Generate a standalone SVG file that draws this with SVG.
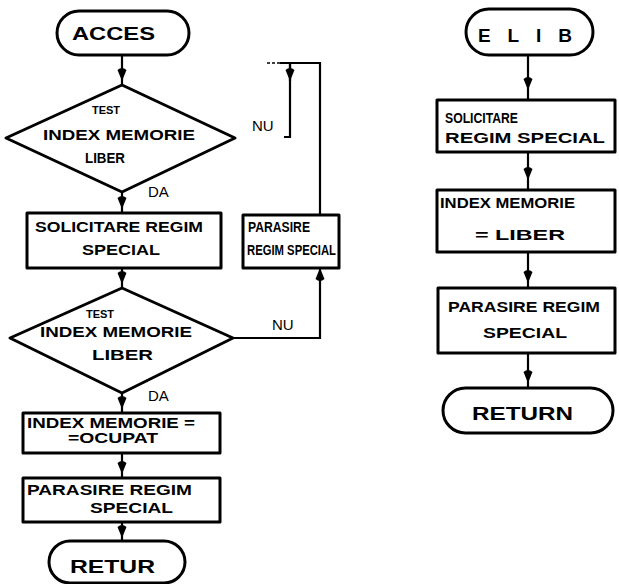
<svg xmlns="http://www.w3.org/2000/svg" width="619" height="584" viewBox="0 0 619 584">
  <style>
    .shape { fill: #fff; stroke: #000; stroke-width: 3; stroke-linejoin: round; }
    .wire { fill: none; stroke: #000; stroke-width: 2.2; }
    .faint { fill: none; stroke: #000; stroke-width: 1.5; stroke-dasharray: 3 2; }
    text { font-family: "Liberation Sans", "DejaVu Sans", sans-serif; font-weight: bold; fill: #000; }
    .t { font-size: 14px; }
    .s { font-size: 11px; }
    .big { font-size: 19px; }
    .lbl { font-size: 15px; font-weight: normal; }
  </style>
  <defs>
    <marker id="head" viewBox="-16 -6 18 12" refX="0" refY="0" markerWidth="18" markerHeight="12" markerUnits="userSpaceOnUse" orient="auto">
      <path d="M0,0 L-11,-4.5 Q-15,0 -11,4.5 Z" fill="#000"/>
    </marker>
  </defs>

  <!-- connectors -->
  <g id="connectors">
    <path class="wire" d="M122,55 V81 V87" marker-mid="url(#head)"/>
    <path class="wire" d="M122,192 V209 V213" marker-mid="url(#head)"/>
    <path class="wire" d="M122,268 V284 V288" marker-mid="url(#head)"/>
    <path class="wire" d="M122,393 V409 V413" marker-mid="url(#head)"/>
    <path class="wire" d="M122,453 V474 V478" marker-mid="url(#head)"/>
    <path class="wire" d="M122,522 V538 V541" marker-mid="url(#head)"/>
    <!-- NU branch from second test back to the leave box -->
    <path class="wire" d="M233,338 H320 V268" marker-end="url(#head)"/>
    <!-- loop from the leave box back to the first test -->
    <path class="wire" d="M320,215 V63 H280"/>
    <path class="faint" d="M280,63 H265"/>
    <path class="wire" d="M290,63 V137 H284"/>
    <path class="wire" d="M290,63 V81" marker-end="url(#head)"/>
    <!-- ELIB column -->
    <path class="wire" d="M528,55 V90 V100" marker-mid="url(#head)"/>
    <path class="wire" d="M528,152 V180 V190" marker-mid="url(#head)"/>
    <path class="wire" d="M528,252 V283 V288" marker-mid="url(#head)"/>
    <path class="wire" d="M528,353 V383 V388" marker-mid="url(#head)"/>
  </g>

  <!-- branch labels -->
  <g id="labels">
    <text class="lbl" x="148" y="197">DA</text>
    <text class="lbl" x="148" y="401">DA</text>
    <text class="lbl" x="272" y="330">NU</text>
    <text class="lbl" x="252" y="131">NU</text>
  </g>

  <!-- ACCES routine -->
  <g id="acces">
    <rect class="shape" x="57" y="11" width="132" height="44" rx="22"/>
    <text class="big" x="72" y="40" textLength="83" lengthAdjust="spacingAndGlyphs">ACCES</text>
  </g>
  <g id="test1">
    <polygon class="shape" points="122,85 235,138 122,192 6,138"/>
    <text class="s" x="106" y="114" text-anchor="middle">TEST</text>
    <text class="t" x="43" y="140" textLength="152" lengthAdjust="spacingAndGlyphs">INDEX MEMORIE</text>
    <text class="t" x="85" y="163" textLength="40" lengthAdjust="spacingAndGlyphs">LIBER</text>
  </g>
  <g id="solicitare1">
    <rect class="shape" x="27" y="213" width="194" height="55"/>
    <text class="t" x="35" y="232" textLength="168" lengthAdjust="spacingAndGlyphs">SOLICITARE REGIM</text>
    <text class="t" x="82" y="255" textLength="78" lengthAdjust="spacingAndGlyphs">SPECIAL</text>
  </g>
  <g id="parasire1">
    <rect class="shape" x="243" y="215" width="96" height="53"/>
    <text class="t" x="248" y="232" textLength="62" lengthAdjust="spacingAndGlyphs">PARASIRE</text>
    <text class="t" x="247" y="255" textLength="89" lengthAdjust="spacingAndGlyphs">REGIM SPECIAL</text>
  </g>
  <g id="test2">
    <polygon class="shape" points="122,288 233,338 122,393 10,338"/>
    <text class="s" x="100" y="318" text-anchor="middle">TEST</text>
    <text class="t" x="40" y="337" textLength="152" lengthAdjust="spacingAndGlyphs">INDEX MEMORIE</text>
    <text class="t" x="92" y="360" textLength="61" lengthAdjust="spacingAndGlyphs">LIBER</text>
  </g>
  <g id="ocupat">
    <rect class="shape" x="23" y="413" width="197" height="40"/>
    <text class="t" x="27" y="428" textLength="168" lengthAdjust="spacingAndGlyphs">INDEX MEMORIE =</text>
    <text class="t" x="68" y="443" textLength="90" lengthAdjust="spacingAndGlyphs">=OCUPAT</text>
  </g>
  <g id="parasire2">
    <rect class="shape" x="23" y="478" width="197" height="44"/>
    <text class="t" x="27" y="495" textLength="165" lengthAdjust="spacingAndGlyphs">PARASIRE REGIM</text>
    <text class="t" x="90" y="513" textLength="83" lengthAdjust="spacingAndGlyphs">SPECIAL</text>
  </g>
  <g id="retur">
    <rect class="shape" x="49" y="541" width="136" height="42" rx="21"/>
    <text class="big" x="70" y="573" textLength="85" lengthAdjust="spacingAndGlyphs">RETUR</text>
  </g>

  <!-- ELIB routine -->
  <g id="elib">
    <rect class="shape" x="466" y="9" width="127" height="46" rx="23"/>
    <text class="big" x="478" y="42" textLength="94" lengthAdjust="spacing">ELIB</text>
  </g>
  <g id="solicitare2">
    <rect class="shape" x="437" y="100" width="178" height="52"/>
    <text class="t" x="445" y="123" textLength="73" lengthAdjust="spacingAndGlyphs">SOLICITARE</text>
    <text class="t" x="445" y="143" textLength="160" lengthAdjust="spacingAndGlyphs">REGIM SPECIAL</text>
  </g>
  <g id="liber">
    <rect class="shape" x="437" y="190" width="178" height="62"/>
    <text class="t" x="440" y="208" textLength="135" lengthAdjust="spacingAndGlyphs">INDEX MEMORIE</text>
    <text class="t" x="475" y="240" textLength="90" lengthAdjust="spacingAndGlyphs">= LIBER</text>
  </g>
  <g id="parasire3">
    <rect class="shape" x="438" y="288" width="177" height="65"/>
    <text class="t" x="448" y="312" textLength="152" lengthAdjust="spacingAndGlyphs">PARASIRE REGIM</text>
    <text class="t" x="483" y="338" textLength="84" lengthAdjust="spacingAndGlyphs">SPECIAL</text>
  </g>
  <g id="return">
    <rect class="shape" x="443" y="388" width="170" height="45" rx="22.5"/>
    <text class="big" x="472" y="420" textLength="101" lengthAdjust="spacingAndGlyphs">RETURN</text>
  </g>
</svg>
